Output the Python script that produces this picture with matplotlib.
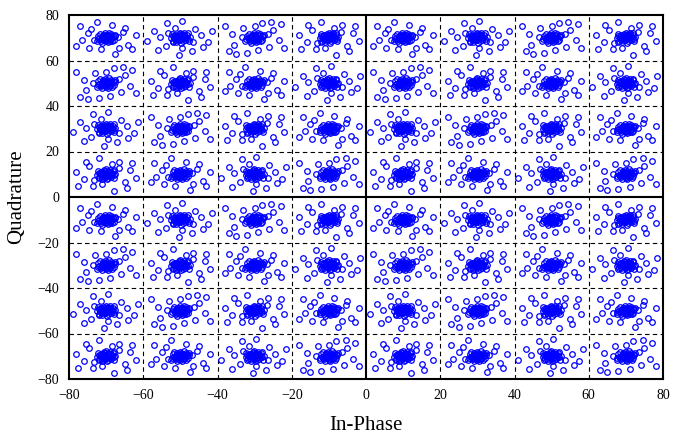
import matplotlib
matplotlib.use('Agg')
import matplotlib.pyplot as plt

# 64-QAM constellation levels (in-phase and quadrature)
niveles = [-70, -50, -30, -10, 10, 30, 50, 70]

# noise offsets read by eye from typical clusters (dx, dy)
# dense core of each cluster
nucleo_1 = [(0, 0), (0.6, 0.3), (-0.5, -0.4), (1.2, 0.6), (-1.1, 0.5), (0.3, -0.9), (-0.4, 1.0),
            (1.0, -0.6), (-0.9, -0.8), (1.7, 0.1), (-1.8, -0.2), (0.2, 1.4), (-0.1, -1.5),
            (0.8, 1.2), (-0.8, 1.3), (2.0, -0.9), (-2.1, 0.8), (0.5, -0.2), (-0.3, 0.2),
            (1.0, -1.4), (-1.3, -1.3), (2.3, 0.6), (-2.3, -0.7), (0.1, 0.7), (1.4, 1.5),
            (-0.6, -0.6), (0.7, 0.0), (-1.2, 0.2), (0.4, -1.9), (-1.6, 1.7), (1.6, -1.6),
            (-0.2, 1.9), (2.4, 1.4), (-2.5, -1.5), (0.9, 2.1), (-1.0, -2.1), (1.9, 0.9),
            (-1.5, -0.7), (0.0, -1.0), (-0.7, 0.6)]
nucleo_2 = [(0.2, 0.1), (-0.6, 0.4), (0.9, -0.3), (-1.0, -0.5), (1.5, 0.5), (-1.6, 0.1),
            (0.4, 1.1), (-0.3, -1.2), (1.1, 1.0), (-1.2, -1.0), (2.1, -0.4), (-2.0, 0.6),
            (0.6, -1.6), (-0.5, 1.7), (1.8, 1.3), (-1.9, -1.4), (0.0, 0.6), (0.7, 0.4),
            (-0.8, -0.1), (1.3, -1.1), (-1.4, 1.2), (2.5, 0.2), (-2.4, -0.3), (0.3, -0.6),
            (-0.1, 2.2), (0.2, -2.2), (1.0, 2.0), (-1.1, -1.9), (2.2, -1.5), (-2.2, 1.6),
            (0.5, 1.5), (-0.4, -0.8), (1.6, -0.2), (-1.5, 0.7), (0.9, 0.7), (-0.9, 0.9),
            (2.0, 1.9), (-2.0, -1.8), (0.1, -0.3), (-0.2, 1.3)]
# scattered outliers around each cluster
cola_a = [(4.5, 2.5), (-5, 2), (6, -3), (-6.5, -1), (3.5, -4.5), (-4, 4), (8, 1), (-8, -3.5),
          (1.5, 5.5), (-1.5, -5), (5, 4.5), (-4.5, -4.5), (7, -5), (-7, 5), (2.5, -7), (-2.5, 7),
          (3.2, 0.5), (-3.4, -1.2)]
cola_b = [(5.5, 1), (-5.5, 0.5), (7.5, -2), (-7, 3), (4, 4), (-4, -3.5), (0.5, -4.5), (-1.5, 4.5),
          (8.5, 3), (-9, -1.5), (3, -6), (-3.5, 6.5), (6, -4), (-6, -5.5), (0.5, 7.5), (-0.5, -7.5),
          (3.5, -1.8), (-3.2, 2.2)]
cola_c = [(5, 3.5), (-5.5, -3), (4, -4), (-3, 4.5), (7, 6), (-7, -6), (6.5, -1), (-6, 1.5),
          (2, 6.5), (-2, -6.5), (4.5, 7), (-5, -7), (8, -4.5), (-8, 5), (0, 5), (1, -5.5),
          (3.6, 1.8), (-3.5, 0.3)]
cola_d = [(-4.5, 3.5), (5, -3.5), (-6, -2), (6.5, 2), (-3.5, -5), (3.5, 5.5), (-8, 1), (8, -1.5),
          (-2, 7), (2, -7.5), (-5.5, 5.5), (5.5, -6), (-7.5, -5), (7, 5), (1.5, 4.5), (-1, -4.5),
          (-3.3, -2.4), (3.4, 2.6)]
patrones = [nucleo_1 + cola_a, nucleo_2 + cola_b, nucleo_1 + cola_c, nucleo_2 + cola_d]

# which noise pattern each cluster uses (rows: quadrature 70 -> -70, cols: in-phase -70 -> 70)
asignacion = ['01230123',
              '23012301',
              '12301230',
              '30123012',
              '01230123',
              '23012301',
              '12301230',
              '30123012']

fig = plt.figure(figsize=(6.81, 4.34), dpi=100)
ax = fig.add_axes([69 / 681, 1 - 379 / 434, 594 / 681, 364 / 434])

xs = []
ys = []
for fila, q in enumerate(reversed(niveles)):
    for col, i in enumerate(niveles):
        ruido = patrones[int(asignacion[fila][col])]
        for dx, dy in ruido:
            xs.append(i + dx)
            ys.append(q + dy)

ax.plot(xs, ys, 'o', markersize=4, markerfacecolor='none', markeredgecolor='#0000ff',
        markeredgewidth=0.9, linestyle='none', zorder=3)

for v in [-60, -40, -20, 20, 40, 60]:
    ax.axvline(v, color='black', linestyle=(0, (4, 3)), linewidth=0.8, zorder=1)
    ax.axhline(v, color='black', linestyle=(0, (4, 3)), linewidth=0.8, zorder=1)
ax.axvline(0, color='black', linewidth=1.5, zorder=2)
ax.axhline(0, color='black', linewidth=1.5, zorder=2)

ax.set_xlim(-80, 80)
ax.set_ylim(-80, 80)
ax.set_xticks(range(-80, 81, 20))
ax.set_yticks(range(-80, 81, 20))
ax.tick_params(length=0, labelsize=10, pad=7)
for lbl in ax.get_xticklabels() + ax.get_yticklabels():
    lbl.set_family('Liberation Serif')
for s in ax.spines.values():
    s.set_linewidth(1.5)

ax.set_xlabel('In-Phase', family='Liberation Serif', fontsize=15, labelpad=10)
ax.set_ylabel('Quadrature', family='Liberation Serif', fontsize=15, labelpad=8)

fig.savefig('out.png', dpi=100)
